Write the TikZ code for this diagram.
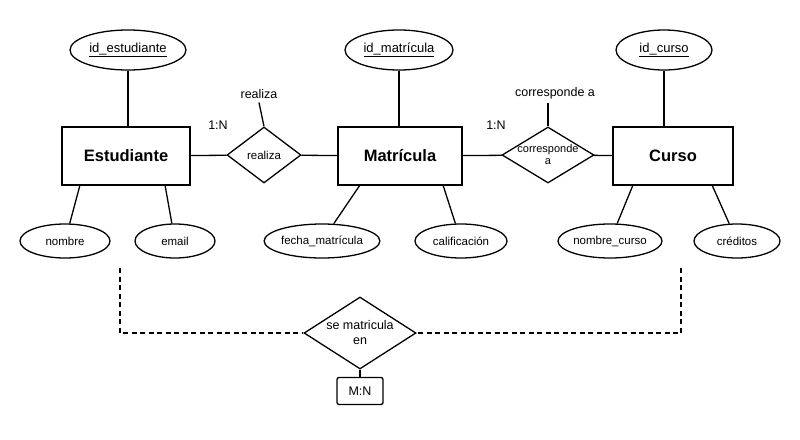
\documentclass[tikz,border=0pt]{standalone}
\usepackage{fontspec}
\setmainfont{Liberation Sans}
\usetikzlibrary{shapes.geometric}
\begin{document}
\begin{tikzpicture}[x=1pt,y=-1pt,line width=1.3pt,
 attr/.style={draw,ellipse,inner sep=0pt,font=\fontsize{11.5}{13}\selectfont},
 ent/.style={draw,rectangle,minimum height=58pt,font=\bfseries\fontsize{16.5}{19}\selectfont},
 rel/.style={draw,diamond,inner sep=0pt,align=center,font=\fontsize{11.5}{13}\selectfont},
 lab/.style={font=\fontsize{12.5}{14}\selectfont}]
\useasboundingbox (0,0) rectangle (800,439);
\node[attr,minimum width=116pt,minimum height=40pt,font=\fontsize{13}{15}\selectfont] (ide) at (128,50) {\underline{id\_estudiante}};
\node[attr,minimum width=108pt,minimum height=40pt,font=\fontsize{13}{15}\selectfont] (idm) at (399,50) {\underline{id\_matrícula}};
\node[attr,minimum width=96pt,minimum height=40pt,font=\fontsize{13}{15}\selectfont] (idc) at (664,50) {\underline{id\_curso}};
\node[ent,minimum width=128pt] (est) at (126,156) {Estudiante};
\node[ent,minimum width=124pt] (mat) at (400,156) {Matrícula};
\node[ent,minimum width=120pt] (cur) at (673,156) {Curso};
\node[rel,minimum width=74pt,minimum height=56pt] (rea) at (264,155) {realiza};
\node[rel,minimum width=92pt,minimum height=56pt,inner sep=-12pt,font=\fontsize{11}{12}\selectfont] (cor) at (548,155) {corresponde\\a};
\node[lab] (lrea) at (259,94) {realiza};
\node[lab] (lcor) at (555,93) {corresponde a};
\node[lab] (n1) at (218,125) {1:N};
\node[lab] (n2) at (496,125) {1:N};
\draw (ide) -- (est.north -| ide);
\draw (idm) -- (mat.north -| idm);
\draw (idc) -- (cur.north -| idc);
\draw (est) -- (rea) -- (mat) -- (cor) -- (cur);
\draw (rea.north) -- (lrea.south);
\draw (cor.north) -- (cor.north |- lcor.south);
\node[attr,minimum width=90pt,minimum height=34pt] (nom) at (65,241) {nombre};
\node[attr,minimum width=80pt,minimum height=34pt] (ema) at (175,241) {email};
\node[attr,minimum width=104pt,minimum height=34pt] (fec) at (322,241) {fecha\_matrícula};
\node[attr,minimum width=92pt,minimum height=34pt] (cal) at (461,241) {calificación};
\node[attr,minimum width=104pt,minimum height=34pt] (ncu) at (610,241) {nombre\_curso};
\node[attr,minimum width=86pt,minimum height=34pt] (cre) at (737,241) {créditos};
\coordinate (e1) at (80,185); \coordinate (e2) at (165,185);
\coordinate (m1) at (360,185); \coordinate (m2) at (443,185);
\coordinate (c1) at (633,185); \coordinate (c2) at (712,185);
\draw (e1) -- (nom); \draw (e2) -- (ema);
\draw (m1) -- (fec); \draw (m2) -- (cal);
\draw (c1) -- (ncu); \draw (c2) -- (cre);
\node[rel,minimum width=112pt,minimum height=72pt,inner sep=-10pt,font=\fontsize{12.5}{15}\selectfont] (sme) at (360,333) {se matricula\\en};
\node[draw,rounded corners=2pt,minimum width=46pt,minimum height=27pt,font=\fontsize{12.5}{14}\selectfont] (mn) at (360,391) {M:N};
\coordinate (dl) at (120,268); \coordinate (dr) at (681,268);
\draw[dash pattern=on 5pt off 3.5pt] (dl) |- (sme.west);
\draw[dash pattern=on 5pt off 3.5pt] (dr) |- (sme.east);
\draw (sme.south) -- (mn.north);
\end{tikzpicture}
\end{document}
